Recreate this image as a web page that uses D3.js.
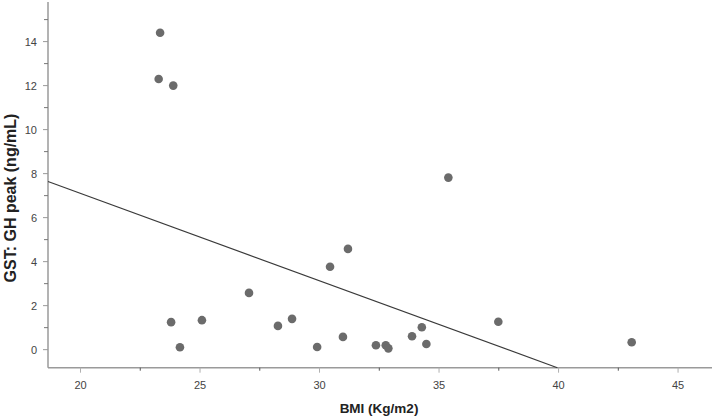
<!DOCTYPE html>
<html>
<head>
<meta charset="utf-8">
<script src="https://cdn.jsdelivr.net/npm/d3@7"></script>
<style>
  body { margin: 0; background: #fff; }
  text { font-family: "Liberation Sans", Arial, sans-serif; }
</style>
</head>
<body>
<script>
// Set up size
var width = 712;
var height = 419;

// BMI (x) vs GST: GH peak (y)
var bmi = [23.33, 23.27, 23.88, 23.79, 24.16, 25.08, 27.05, 28.26, 28.85, 29.9, 30.44,
  31.19, 30.98, 32.36, 32.77, 32.88, 33.87, 34.28, 34.47, 35.39, 37.48, 43.06];
var ghPeak = [14.4, 12.3, 12.0, 1.25, 0.11, 1.34, 2.58, 1.08, 1.4, 0.12, 3.77,
  4.58, 0.58, 0.2, 0.2, 0.06, 0.61, 1.02, 0.26, 7.82, 1.27, 0.34];

// fitted line, y = intercept + slope * x
var fitIntercept = 15.04;
var fitSlope = -0.397;

var xTicks = [20, 25, 30, 35, 40, 45];
var yTicks = [0, 2, 4, 6, 8, 10, 12, 14];

// plot box (note: "top" is taken by window.top)
var plotLeft = 48, plotRight = 712, plotTop = 2, plotBottom = 367.7;

var x = d3.scaleLinear().domain([18.64, 46.42]).range([plotLeft, plotRight]);
var y = d3.scaleLinear().domain([-0.82, 15.8]).range([plotBottom, plotTop]);

var svg = d3.select('body').append('svg')
  .attr('width', width)
  .attr('height', height);

// x axis: major ticks with labels, minor ticks in between
var xAxis = svg.append('g')
  .attr('transform', 'translate(0,' + plotBottom + ')');
xAxis.append('line')
  .attr('x1', plotLeft).attr('x2', plotRight)
  .attr('stroke', '#9a9a9a').attr('stroke-width', 1.5);
xAxis.selectAll('.major').data(xTicks).enter().append('line')
  .attr('x1', d => x(d)).attr('x2', d => x(d))
  .attr('y1', 0).attr('y2', 5)
  .attr('stroke', '#b0b0b0');
xAxis.selectAll('.minor').data(d3.range(22.5, 46, 5)).enter().append('line')
  .attr('x1', d => x(d)).attr('x2', d => x(d))
  .attr('y1', 0).attr('y2', 3)
  .attr('stroke', '#555');
xAxis.selectAll('text').data(xTicks).enter().append('text')
  .attr('x', d => x(d)).attr('y', 21)
  .attr('text-anchor', 'middle')
  .attr('font-size', 11).attr('fill', '#444')
  .text(d => d);

// y axis
var yAxis = svg.append('g')
  .attr('transform', 'translate(' + plotLeft + ',0)');
yAxis.append('line')
  .attr('y1', plotTop).attr('y2', plotBottom)
  .attr('stroke', '#9a9a9a').attr('stroke-width', 1.5);
yAxis.selectAll('.major').data(yTicks).enter().append('line')
  .attr('y1', d => y(d)).attr('y2', d => y(d))
  .attr('x1', -5).attr('x2', 0)
  .attr('stroke', '#999');
yAxis.selectAll('.minor').data(d3.range(1, 16, 2)).enter().append('line')
  .attr('y1', d => y(d)).attr('y2', d => y(d))
  .attr('x1', -4).attr('x2', 0)
  .attr('stroke', '#777');
yAxis.selectAll('text').data(yTicks).enter().append('text')
  .attr('x', -11).attr('y', d => y(d) + 4)
  .attr('text-anchor', 'end')
  .attr('font-size', 11).attr('fill', '#444')
  .text(d => d);

// axis titles
svg.append('text')
  .attr('x', 379).attr('y', 413)
  .attr('text-anchor', 'middle')
  .attr('font-size', 13.5).attr('font-weight', 'bold').attr('fill', '#222')
  .text('BMI (Kg/m2)');
svg.append('text')
  .attr('transform', 'translate(16,198) rotate(-90)')
  .attr('text-anchor', 'middle')
  .attr('font-size', 16).attr('font-weight', 'bold').attr('fill', '#222')
  .text('GST: GH peak (ng/mL)');

// fit line, from left edge until it reaches the bottom of the plot
var xStart = x.domain()[0];
var xEnd = (y.domain()[0] - fitIntercept) / fitSlope;
svg.append('line')
  .attr('x1', x(xStart)).attr('y1', y(fitIntercept + fitSlope * xStart))
  .attr('x2', x(xEnd)).attr('y2', y(fitIntercept + fitSlope * xEnd))
  .attr('stroke', '#3a3a3a').attr('stroke-width', 1.2);

// points
svg.selectAll('circle').data(bmi).enter().append('circle')
  .attr('cx', d => x(d))
  .attr('cy', (d, i) => y(ghPeak[i]))
  .attr('r', 4.3)
  .style('fill', '#6b6b6b');
</script>
</body>
</html>
